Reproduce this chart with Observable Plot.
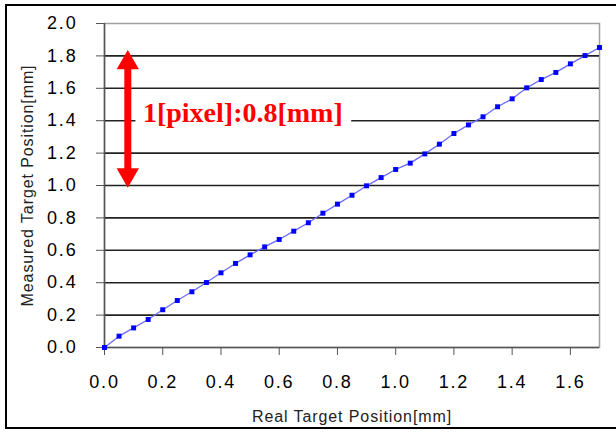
<!DOCTYPE html>
<html><head><meta charset="utf-8">
<script src="https://cdn.jsdelivr.net/npm/d3@7"></script>
<script src="https://cdn.jsdelivr.net/npm/@observablehq/plot@0.6"></script>
<style>
body{margin:0;background:#fff;}
#wrap{position:relative;width:616px;height:432px;overflow:hidden;background:#fff;}
#frame{position:absolute;left:5px;top:4px;width:700px;height:421px;border:2px solid #000;pointer-events:none;}
</style></head><body><div id="wrap"><div id="frame"></div></div>
<script>
const realPos = [0,0.05,0.10,0.15,0.20,0.25,0.30,0.35,0.40,0.45,0.50,0.55,0.60,0.65,0.70,0.75,0.80,0.85,0.90,0.95,1.00,1.05,1.10,1.15,1.20,1.25,1.30,1.35,1.40,1.45,1.50,1.55,1.60,1.65,1.70];
const measured = [0.000,0.070,0.121,0.173,0.233,0.290,0.344,0.401,0.461,0.519,0.572,0.621,0.667,0.718,0.770,0.829,0.885,0.940,0.998,1.049,1.099,1.138,1.195,1.255,1.321,1.374,1.424,1.486,1.535,1.603,1.654,1.698,1.751,1.802,1.852];
const xTicks = [0,0.2,0.4,0.6,0.8,1.0,1.2,1.4,1.6];
const yTicks = [0,0.2,0.4,0.6,0.8,1.0,1.2,1.4,1.6,1.8,2.0];
const gridLines = [0.2,0.4,0.6,0.8,1.0,1.2,1.4,1.6,1.8];
const xTitle = "Real Target Position[mm]";
const yTitle = "Measured Target Position[mm]";
const annotationText = "1[pixel]:0.8[mm]";
const arrowX = 0.08, arrowFrom = 1.0, arrowTo = 1.8;
const headTopY = 1.757, headBottomY = 1.066;
const labelX = 0.132, labelY = 1.4;
const gapX = [0.108, 0.849], gapY = [1.36, 1.44];
const yTitleX = -0.264, yTitleY = 1.0;

const data = realPos.map((x, i) => ({x, y: measured[i]}));
const fmt = d3.format(".1f");

const chart = Plot.plot({
  width: 616, height: 432,
  marginLeft: 104, marginRight: 17, marginTop: 23, marginBottom: 85,
  x: {domain: [0, 1.7]},
  y: {domain: [0, 2]},
  style: {fontFamily: "'Liberation Sans', Arial, sans-serif", background: "transparent", color: "#000"},
  marks: [
    Plot.frame({stroke: "#a0a0a0", strokeWidth: 1.5}),
    Plot.ruleY(gridLines, {stroke: "#222", strokeWidth: 1.6}),
    Plot.rect([0], {x1: gapX[0], x2: gapX[1], y1: gapY[0], y2: gapY[1], fill: "white"}),
    Plot.ruleX([0], {stroke: "#555", strokeWidth: 1.5}),
    Plot.ruleY([0], {stroke: "#555", strokeWidth: 1.5}),
    Plot.axisY(yTicks, {tickSize: 8, tickPadding: 19, tickFormat: fmt, fontSize: 18, stroke: "#555", label: null}),
    Plot.axisX(xTicks, {tickSize: 8, tickPadding: 20, tickFormat: fmt, fontSize: 18, stroke: "#555", label: null}),
    Plot.line(data, {x: "x", y: "y", stroke: "#6b6bff", strokeWidth: 1.3}),
    Plot.dot(data, {x: "x", y: "y", symbol: "square", r: 2.8, fill: "#0000ff", stroke: "none"}),
    Plot.ruleX([arrowX], {y1: arrowTo, y2: arrowFrom, stroke: "red", strokeWidth: 7, insetTop: 10, insetBottom: 10}),
    Plot.dot([headTopY], {x: arrowX, y: d => d, symbol: "triangle", r: 8.3, fill: "red", stroke: "none"}),
    Plot.dot([headBottomY], {x: arrowX, y: d => d, symbol: "triangle", r: 8.3, fill: "red", stroke: "none", rotate: 180}),
    Plot.text([annotationText], {x: labelX, y: labelY, text: d => d, textAnchor: "start", lineAnchor: "middle", dy: -8, fill: "red", fontSize: 28, fontWeight: "bold", fontFamily: "'Liberation Serif', 'Times New Roman', serif"}),
    Plot.text([xTitle], {frameAnchor: "bottom", text: d => d, dy: 69, fontSize: 16, lineAnchor: "middle", fill: "#222"}),
    Plot.text([yTitle], {x: yTitleX, y: yTitleY, text: d => d, rotate: -90, fontSize: 16, lineAnchor: "middle", fill: "#222"})
  ]
});
const tickLabels = new Set([...xTicks, ...yTicks].map(fmt));
d3.select(chart).selectAll("text").each(function() {
  const t = this.textContent;
  if (t === xTitle || t === yTitle) this.style.letterSpacing = "0.9px";
  else if (tickLabels.has(t)) this.style.letterSpacing = "1.8px";
});
document.getElementById("wrap").insertBefore(chart, document.getElementById("frame"));
</script>
</body></html>
